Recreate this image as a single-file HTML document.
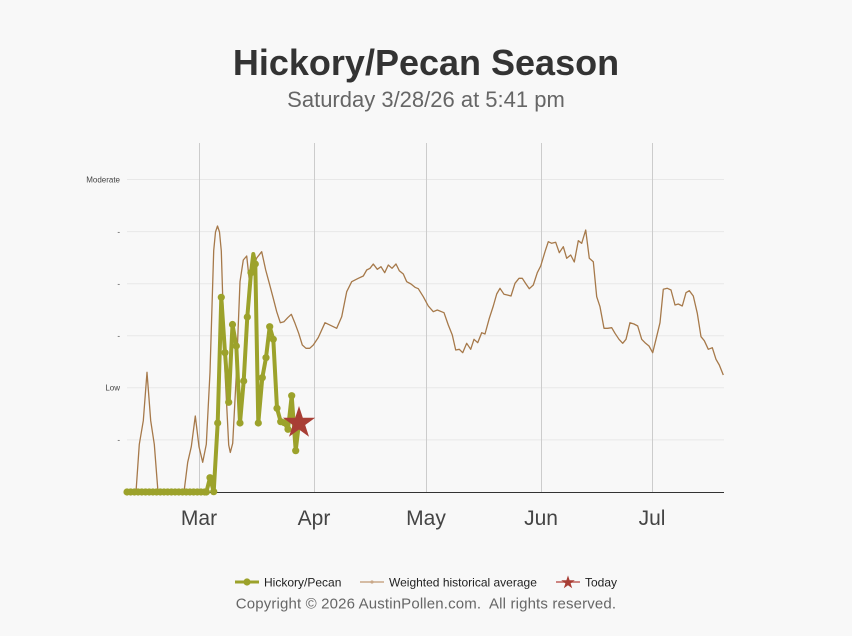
<!DOCTYPE html>
<html>
<head>
<meta charset="utf-8">
<style>
html,body{margin:0;padding:0;background:#f8f8f8;}
svg{display:block;font-family:"Liberation Sans",Arial,sans-serif;}
</style>
</head>
<body>
<svg width="852" height="636" viewBox="0 0 852 636" xmlns="http://www.w3.org/2000/svg">
<rect x="0" y="0" width="852" height="636" fill="#f8f8f8"/>

<!-- Title -->
<text x="426" y="75" text-anchor="middle" font-size="36" font-weight="bold" fill="#333333">Hickory/Pecan Season</text>
<text x="426" y="107" text-anchor="middle" font-size="22" fill="#666666">Saturday 3/28/26 at 5:41 pm</text>

<!-- horizontal grid -->
<g stroke="#e8e8e8" stroke-width="1">
<line x1="127" y1="179.5" x2="724" y2="179.5"/>
<line x1="127" y1="231.6" x2="724" y2="231.6"/>
<line x1="127" y1="283.7" x2="724" y2="283.7"/>
<line x1="127" y1="335.8" x2="724" y2="335.8"/>
<line x1="127" y1="387.8" x2="724" y2="387.8"/>
<line x1="127" y1="439.9" x2="724" y2="439.9"/>
</g>
<!-- vertical grid -->
<g stroke="#cccccc" stroke-width="1">
<line x1="199.5" y1="143" x2="199.5" y2="492"/>
<line x1="314.5" y1="143" x2="314.5" y2="492"/>
<line x1="426.5" y1="143" x2="426.5" y2="492"/>
<line x1="541.5" y1="143" x2="541.5" y2="492"/>
<line x1="652.5" y1="143" x2="652.5" y2="492"/>
</g>
<!-- axis line -->
<line x1="127" y1="492.5" x2="724" y2="492.5" stroke="#333333" stroke-width="1"/>

<!-- y labels -->
<g font-size="8" fill="#444444" text-anchor="end">
<text x="120" y="182.5">Moderate</text>
<text x="120" y="234.5">-</text>
<text x="120" y="286.5">-</text>
<text x="120" y="338.5">-</text>
<text x="120" y="390.5">Low</text>
<text x="120" y="442.5">-</text>
</g>

<!-- x labels -->
<g font-size="21" fill="#444444" text-anchor="middle">
<text x="199" y="525">Mar</text>
<text x="314" y="525">Apr</text>
<text x="426" y="525">May</text>
<text x="541" y="525">Jun</text>
<text x="652" y="525">Jul</text>
</g>

<!-- Weighted historical average -->
<polyline fill="none" stroke="#a6794a" stroke-width="1.3" stroke-linejoin="round" points="
127,492 136,492 139.3,444.3 143.3,420.7 147,372.3 150.7,420.7 154.3,444.3 158,492 184,492 187.7,462.3 191.3,446.7 195.3,416 199,446.7 202.7,462.3 206.3,444.3 210,372.3 213.7,250.7 215.5,232 217.5,226 219.5,232 221.3,251 225,372 228.7,445 230.3,452.5 232.7,443.3 236.3,375 240,281.7 243.3,260 246.7,256 249.5,282 253,268 256.7,258 261.7,251.7 265.7,270 269.3,283.3 273,297.3 276.7,311.7 280.3,322.7 284,321.7 287.7,317.7 291.3,314.3 295,323.3 298.7,333.3 302.3,345 306,348.3 309.7,348.3 313.3,345 318.3,337.5 325,322.7 336.7,328.3 341.7,316.7 346.7,291.7 351.7,281.7 358.3,278.3 363.3,276 366.7,270 370,268.3 373.3,264 377.3,269.3 381,266.7 384.7,272.7 388.3,265 392,268.3 396,264 399.3,270.7 403.3,274 406.7,281.7 411,284 415,287.3 418.3,288.7 423.3,296.7 428.3,306 433.3,311.7 437.3,310 444,312.7 448.3,325 452.3,335 455.7,350 459.3,349.3 462.7,352.7 466.7,343.3 470.7,349.3 474,339.3 477.7,342.7 481.7,332.7 485,334 489.3,318.3 493.3,306 496.7,294 500,288.3 504,294.3 507.3,295 511,296 515,283.3 519,278.3 522.3,278.3 526,284 529.3,288.7 533.3,285 537.3,272.7 540.7,266 545,251.7 548.3,241.7 551.7,243.3 555.7,242.3 559.3,252.7 563.3,246.7 566.7,258.3 570.7,255 574.3,262 578.3,240.7 581.7,243.3 585.7,230 589.3,258.3 593.3,261.7 596.7,296.7 600,306.7 604,328.3 607.7,328.3 611.7,327.7 615,333.3 619,339.3 622.7,343.3 626,339.3 630,322.7 634,324 637.7,326 641.7,339.3 645,342.7 649,346 652.7,352.7 656,339.3 660,322.7 663.3,289.3 667.3,288.3 671,290 675,305 678.3,304 682.3,306 686,292.7 689.3,290.7 693.3,296 697.3,313.3 701,336.7 704.3,340.7 708.3,349.3 712.3,347.7 716,359.3 719.3,365 723.3,375"/>

<!-- Hickory/Pecan -->
<g>
<polyline fill="none" stroke="#9ca22b" stroke-width="4" stroke-linejoin="round" stroke-linecap="round" points="
127,492 206.4,492 210,477.7 213.7,491.7 217.7,423 221.3,297.3 225,352.7 228.7,402.3 232.5,324.5 236.3,346 240,423 243.7,381 247.3,317 251,272.7 253.3,254 255.3,264 258.3,423 262.3,377.7 266,357.7 269.7,326.7 273.3,339.3 277,408.3 280.7,421.7 284.3,422.7 288,429.3 291.7,395.7 295.7,450.7 299,423"/>
<g fill="#9ca22b">
<circle cx="127" cy="492" r="3.6"/><circle cx="130.7" cy="492" r="3.6"/><circle cx="134.4" cy="492" r="3.6"/><circle cx="138.1" cy="492" r="3.6"/><circle cx="141.8" cy="492" r="3.6"/><circle cx="145.5" cy="492" r="3.6"/><circle cx="149.2" cy="492" r="3.6"/><circle cx="152.9" cy="492" r="3.6"/><circle cx="156.6" cy="492" r="3.6"/><circle cx="160.3" cy="492" r="3.6"/><circle cx="164" cy="492" r="3.6"/><circle cx="167.7" cy="492" r="3.6"/><circle cx="171.4" cy="492" r="3.6"/><circle cx="175.1" cy="492" r="3.6"/><circle cx="178.8" cy="492" r="3.6"/><circle cx="182.5" cy="492" r="3.6"/><circle cx="186.2" cy="492" r="3.6"/><circle cx="189.9" cy="492" r="3.6"/><circle cx="193.6" cy="492" r="3.6"/><circle cx="197.3" cy="492" r="3.6"/><circle cx="201" cy="492" r="3.6"/><circle cx="204.7" cy="492" r="3.6"/><circle cx="206.4" cy="492" r="3.6"/>
<circle cx="210" cy="477.7" r="3.6"/><circle cx="213.7" cy="491.7" r="3.6"/><circle cx="217.7" cy="423" r="3.6"/><circle cx="221.3" cy="297.3" r="3.6"/><circle cx="225" cy="352.7" r="3.6"/><circle cx="228.7" cy="402.3" r="3.6"/><circle cx="232.5" cy="324.5" r="3.6"/><circle cx="236.3" cy="346" r="3.6"/><circle cx="240" cy="423" r="3.6"/><circle cx="243.7" cy="381" r="3.6"/><circle cx="247.3" cy="317" r="3.6"/><circle cx="251" cy="272.7" r="3.6"/><circle cx="255.3" cy="264" r="3.6"/><circle cx="258.3" cy="423" r="3.6"/><circle cx="262.3" cy="377.7" r="3.6"/><circle cx="266" cy="357.7" r="3.6"/><circle cx="269.7" cy="326.7" r="3.6"/><circle cx="273.3" cy="339.3" r="3.6"/><circle cx="277" cy="408.3" r="3.6"/><circle cx="280.7" cy="421.7" r="3.6"/><circle cx="284.3" cy="422.7" r="3.6"/><circle cx="288" cy="429.3" r="3.6"/><circle cx="291.7" cy="395.7" r="3.6"/><circle cx="295.7" cy="450.7" r="3.6"/>
</g>
</g>

<!-- Today star -->
<polygon fill="#a83e35" transform="translate(299,423)" points="0,-17 3.82,-5.26 16.17,-5.25 6.18,2.01 10,13.75 0,6.5 -10,13.75 -6.18,2.01 -16.17,-5.25 -3.82,-5.26"/>

<!-- Legend -->
<line x1="235" y1="582" x2="259" y2="582" stroke="#9ca22b" stroke-width="3"/>
<circle cx="247" cy="582" r="3.6" fill="#9ca22b"/>
<text x="264" y="586.5" font-size="12" fill="#222222">Hickory/Pecan</text>

<line x1="360" y1="582" x2="384" y2="582" stroke="#c9a888" stroke-width="1.5"/>
<circle cx="372" cy="582" r="1.6" fill="#c9a888"/>
<text x="389" y="586.5" font-size="12" fill="#222222">Weighted historical average</text>

<line x1="556" y1="582" x2="580" y2="582" stroke="#c0615a" stroke-width="1.5"/>
<polygon fill="#a83e35" transform="translate(568,582.5) scale(0.42)" points="0,-17 3.82,-5.26 16.17,-5.25 6.18,2.01 10,13.75 0,6.5 -10,13.75 -6.18,2.01 -16.17,-5.25 -3.82,-5.26"/>
<text x="585" y="586.5" font-size="12" fill="#222222">Today</text>

<text x="426" y="608.5" text-anchor="middle" font-size="15" fill="#666666" letter-spacing="0.15" xml:space="preserve">Copyright © 2026 AustinPollen.com.  All rights reserved.</text>
</svg>
</body>
</html>
